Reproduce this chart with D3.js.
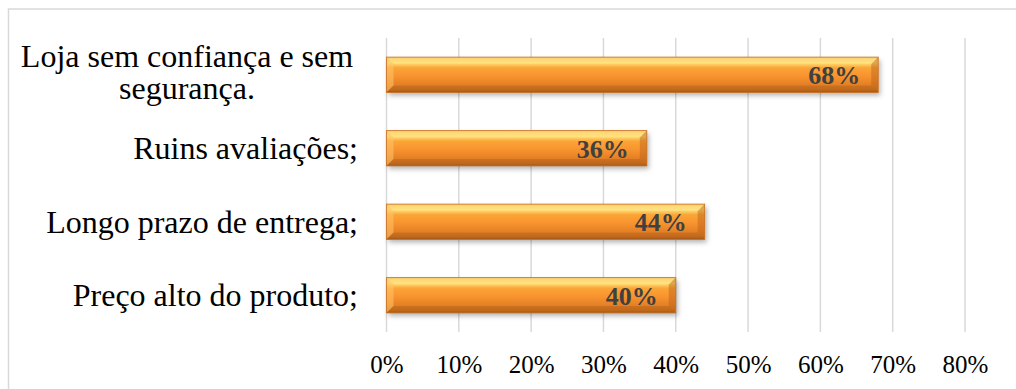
<!DOCTYPE html>
<html><head><meta charset="utf-8">
<script src="https://cdn.jsdelivr.net/npm/d3@7"></script>
<style>body{margin:0;background:#fff}svg{display:block}
svg text{font-family:"Liberation Serif","Times New Roman",Times,serif}</style>
</head><body>
<script>
const categories = ["Loja sem confiança e sem segurança.", "Ruins avaliações;", "Longo prazo de entrega;", "Preço alto do produto;"];
const categoryLines = [["Loja sem confiança e sem", "segurança."], ["Ruins avaliações;"], ["Longo prazo de entrega;"], ["Preço alto do produto;"]];
const values = [0.68, 0.36, 0.44, 0.40];
const valueLabels = ["68%", "36%", "44%", "40%"];
const ticks = [0, 0.1, 0.2, 0.3, 0.4, 0.5, 0.6, 0.7, 0.8];
const tickLabels = ["0%", "10%", "20%", "30%", "40%", "50%", "60%", "70%", "80%"];

const W = 1016, H = 389;
const svg = d3.select("body").append("svg").attr("width", W).attr("height", H);
const defs = svg.append("defs");
const g1 = defs.append("linearGradient").attr("id", "barGrad").attr("x1", 0).attr("y1", 0).attr("x2", 0).attr("y2", 1);
[[0, "#F7B45A"], [0.06, "#FDD36E"], [0.16, "#FFE07A"], [0.3, "#FBA537"], [0.55, "#F8922E"], [0.8, "#E27F25"], [0.94, "#C96E1F"], [1, "#9A5417"]]
  .forEach(([o, c]) => g1.append("stop").attr("offset", o).attr("stop-color", c));
const f = defs.append("filter").attr("id", "shadow").attr("x", "-5%").attr("y", "-30%").attr("width", "110%").attr("height", "170%");
f.append("feDropShadow").attr("dx", 2).attr("dy", 3).attr("stdDeviation", 2.5).attr("flood-color", "#000").attr("flood-opacity", 0.3);

// outer border
svg.append("rect").attr("x", 8.5).attr("y", 9).attr("width", W + 10).attr("height", H + 10)
  .attr("fill", "none").attr("stroke", "#D9D9D9").attr("stroke-width", 1.5);

const x = d3.scaleLinear().domain([0, 0.8]).range([386.5, 965]);
const y = d3.scaleBand().domain(categories).range([38, 332]).paddingInner(0.52).paddingOuter(0.26);

// gridlines
svg.append("g").selectAll("line").data(ticks).join("line")
  .attr("x1", d => x(d)).attr("x2", d => x(d)).attr("y1", 38).attr("y2", 332)
  .attr("stroke", "#D9D9D9").attr("stroke-width", 1.5);

// x axis labels
const xAxis = d3.axisBottom(x).tickValues(ticks).tickFormat((d, i) => tickLabels[i]).tickSize(0).tickPadding(0);
const ax = svg.append("g").attr("transform", "translate(0,354)").call(xAxis);
ax.attr("font-family", null).attr("font-size", null);
ax.select(".domain").remove();
ax.selectAll("text").attr("font-size", 25).attr("fill", "#000").attr("dy", "0.76em");

// bars
const bw = y.bandwidth();
const bars = svg.append("g").selectAll("g").data(categories).join("g");
bars.append("rect").attr("x", x(0)).attr("y", d => y(d)).attr("width", (d, i) => x(values[i]) - x(0)).attr("height", bw)
  .attr("fill", "url(#barGrad)").attr("filter", "url(#shadow)");
const bev = 7;
bars.append("path").attr("d", (d, i) => {
  const x0 = x(0), y0 = y(d), y1 = y0 + bw;
  return `M${x0},${y0}L${x0 + bev},${y0 + bev}L${x0 + bev},${y1 - bev}L${x0},${y1}Z`;
}).attr("fill", "#FFC46A").attr("opacity", 0.55);
bars.append("path").attr("d", (d, i) => {
  const x1 = x(values[i]), y0 = y(d), y2 = y0 + bw;
  return `M${x1},${y0}L${x1 - bev},${y0 + bev}L${x1 - bev},${y2 - bev}L${x1},${y2}Z`;
}).attr("fill", "#B8621A").attr("opacity", 0.45);
bars.append("path").attr("d", (d, i) => {
  const x0 = x(0), x1 = x(values[i]), y0 = y(d);
  return `M${x0},${y0}L${x1},${y0}L${x1 - bev},${y0 + bev}L${x0 + bev},${y0 + bev}Z`;
}).attr("fill", "#FFE68A").attr("opacity", 0.35);
bars.append("path").attr("d", (d, i) => {
  const x0 = x(0), x1 = x(values[i]), y2 = y(d) + bw;
  return `M${x0},${y2}L${x1},${y2}L${x1 - bev},${y2 - bev}L${x0 + bev},${y2 - bev}Z`;
}).attr("fill", "#A85A18").attr("opacity", 0.35);
bars.append("rect").attr("x", x(0)).attr("y", d => y(d)).attr("width", (d, i) => x(values[i]) - x(0)).attr("height", bw)
  .attr("fill", "none").attr("stroke", "#C87020").attr("stroke-width", 0.8);

// value labels
bars.append("text").attr("x", (d, i) => x(values[i]) - 18).attr("y", d => y(d) + bw / 2 + 9.5)
  .attr("text-anchor", "end").attr("font-weight", "bold").attr("font-size", 26).attr("fill", "#404040")
  .text((d, i) => valueLabels[i]);

// category labels (one text element per line)
const lab = svg.append("g");
categories.forEach((d, i) => {
  const c = y(d) + bw / 2;
  const lines = categoryLines[i];
  if (lines.length === 1) {
    lab.append("text").attr("text-anchor", "end").attr("x", 358).attr("y", c + 11)
      .attr("font-size", 32).attr("fill", "#000").text(lines[0]);
  } else {
    lines.forEach((ln, k) => lab.append("text").attr("text-anchor", "middle").attr("x", 187).attr("y", c - 8 + k * 32)
      .attr("font-size", 32).attr("fill", "#000").text(ln));
  }
});
</script>
</body></html>
